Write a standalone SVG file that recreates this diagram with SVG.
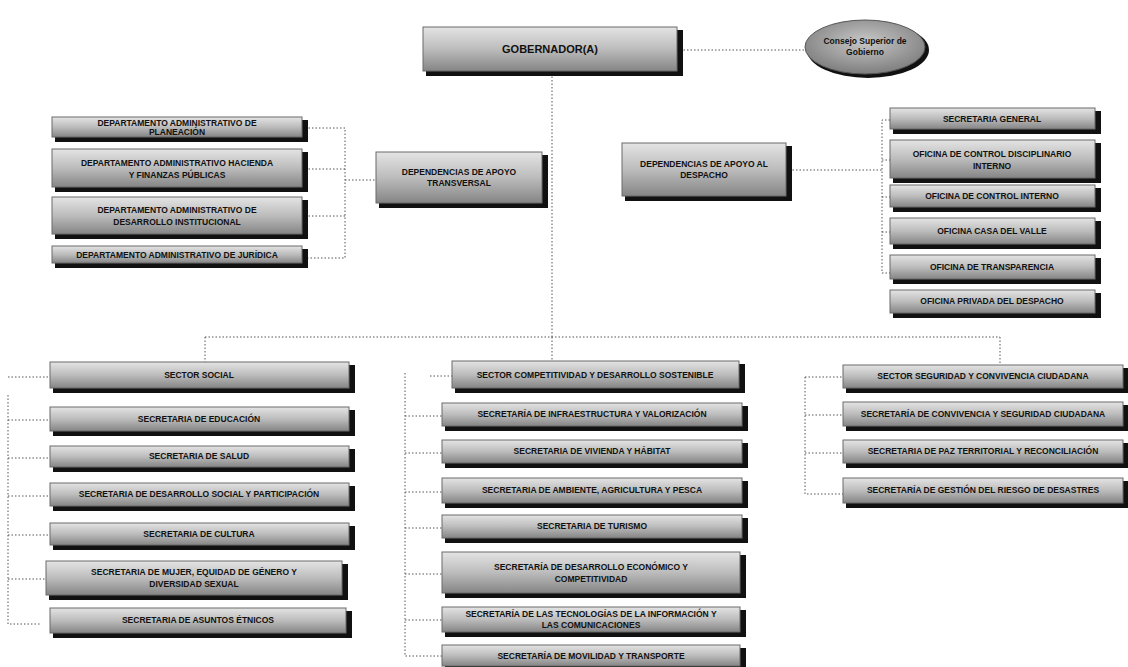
<svg xmlns="http://www.w3.org/2000/svg" width="1128" height="667" viewBox="0 0 1128 667">
<style>
.bx{fill:url(#g);stroke:#6a6a6a;stroke-width:1}
.sh{fill:#111}
.t{font-family:"Liberation Sans",Arial,sans-serif;font-weight:bold;font-size:8.5px;fill:#111;text-anchor:middle}
.tb{font-family:"Liberation Sans",Arial,sans-serif;font-weight:bold;font-size:11px;fill:#111;text-anchor:middle}
.c{fill:none;stroke:#555;stroke-width:1;stroke-dasharray:1.5 2}
</style>
<defs>
<linearGradient id="g" x1="0" y1="0" x2="0" y2="1">
<stop offset="0" stop-color="#e4e4e4"/><stop offset="0.5" stop-color="#bcbcbc"/><stop offset="1" stop-color="#858585"/>
</linearGradient>
<radialGradient id="ge" cx="0.5" cy="0.4" r="0.6">
<stop offset="0" stop-color="#c8c8c8"/><stop offset="1" stop-color="#7e7e7e"/>
</radialGradient>
</defs>
<rect width="1128" height="667" fill="#fff"/>
<g id="connectors">
<path class="c" d="M680 50 H805"/>
<path class="c" d="M552 73 V337"/>
<path class="c" d="M205 337 H1000"/>
<path class="c" d="M205 337 V362"/>
<path class="c" d="M552 337 V361"/>
<path class="c" d="M1000 337 V365"/>
<path class="c" d="M305 128 H345 V258 H305 M305 169 H345 M305 216 H345 M345 180 H376"/>
<path class="c" d="M789 170 H882 M890 120 H882 V273 H890 M882 160 H890 M882 197 H890 M882 232 H890"/>
<path class="c" d="M8 377 H50 M8 395 V624 H40 M8 420 H50 M8 458 H50 M8 496 H50 M8 535 H50 M8 579 H46"/>
<path class="c" d="M430 376 H452 M405 373 V656 H442 M405 416 H442 M405 453 H442 M405 492 H442 M405 528 H442 M405 574 H442 M405 620 H442"/>
<path class="c" d="M805 377 H843 M805 377 V494 H843 M805 415 H843 M805 453 H843"/>
</g>
<g id="gobernador"><rect class="sh" x="426" y="30" width="257" height="46"/><rect class="bx" x="423" y="27" width="254" height="44"/><text class="tb" x="550" y="53">GOBERNADOR(A)</text></g>
<g id="consejo"><ellipse class="sh" cx="868" cy="50" rx="61" ry="28"/><ellipse cx="865" cy="47" rx="60" ry="27" fill="url(#ge)" stroke="#555"/><text class="t" x="865" y="44">Consejo Superior de</text><text class="t" x="865" y="55">Gobierno</text></g>

<g id="dep-planeacion"><rect class="sh" x="55" y="120" width="253" height="22"/><rect class="bx" x="52" y="117" width="250" height="20"/><text class="t" x="177" y="126">DEPARTAMENTO ADMINISTRATIVO DE</text><text class="t" x="177" y="135">PLANEACIÓN</text></g>
<g id="dep-hacienda"><rect class="sh" x="55" y="152" width="253" height="40"/><rect class="bx" x="52" y="149" width="250" height="38"/><text class="t" x="177" y="166">DEPARTAMENTO ADMINISTRATIVO HACIENDA</text><text class="t" x="177" y="178">Y FINANZAS PÚBLICAS</text></g>
<g id="dep-desarrollo"><rect class="sh" x="55" y="200" width="253" height="39"/><rect class="bx" x="52" y="197" width="250" height="37"/><text class="t" x="177" y="213">DEPARTAMENTO ADMINISTRATIVO DE</text><text class="t" x="177" y="225">DESARROLLO INSTITUCIONAL</text></g>
<g id="dep-juridica"><rect class="sh" x="55" y="249" width="253" height="19"/><rect class="bx" x="52" y="246" width="250" height="17"/><text class="t" x="177" y="258">DEPARTAMENTO ADMINISTRATIVO DE JURÍDICA</text></g>
<g id="apoyo-transversal"><rect class="sh" x="379" y="155" width="169" height="53"/><rect class="bx" x="376" y="152" width="166" height="51"/><text class="t" x="459" y="175">DEPENDENCIAS DE APOYO</text><text class="t" x="459" y="186">TRANSVERSAL</text></g>
<g id="apoyo-despacho"><rect class="sh" x="625" y="146" width="167" height="55"/><rect class="bx" x="622" y="143" width="164" height="53"/><text class="t" x="704" y="167">DEPENDENCIAS DE APOYO AL</text><text class="t" x="704" y="178">DESPACHO</text></g>

<g id="sec-general"><rect class="sh" x="893" y="111" width="208" height="23"/><rect class="bx" x="890" y="108" width="205" height="21"/><text class="t" x="992" y="122">SECRETARIA GENERAL</text></g>
<g id="of-disciplinario"><rect class="sh" x="893" y="143" width="208" height="40"/><rect class="bx" x="890" y="140" width="205" height="38"/><text class="t" x="992" y="157">OFICINA DE CONTROL DISCIPLINARIO</text><text class="t" x="992" y="169">INTERNO</text></g>
<g id="of-control"><rect class="sh" x="893" y="188" width="208" height="24"/><rect class="bx" x="890" y="185" width="205" height="22"/><text class="t" x="992" y="199">OFICINA DE CONTROL INTERNO</text></g>
<g id="of-casa"><rect class="sh" x="893" y="221" width="208" height="28"/><rect class="bx" x="890" y="218" width="205" height="26"/><text class="t" x="992" y="234">OFICINA CASA DEL VALLE</text></g>
<g id="of-transparencia"><rect class="sh" x="893" y="258" width="208" height="26"/><rect class="bx" x="890" y="255" width="205" height="24"/><text class="t" x="992" y="270">OFICINA DE TRANSPARENCIA</text></g>
<g id="of-privada"><rect class="sh" x="893" y="293" width="208" height="25"/><rect class="bx" x="890" y="290" width="205" height="23"/><text class="t" x="992" y="304">OFICINA PRIVADA DEL DESPACHO</text></g>

<g id="sector-social"><rect class="sh" x="53" y="365" width="302" height="28"/><rect class="bx" x="50" y="362" width="299" height="26"/><text class="t" x="199" y="378">SECTOR SOCIAL</text></g>
<g id="sec-educacion"><rect class="sh" x="53" y="410" width="302" height="26"/><rect class="bx" x="50" y="407" width="299" height="24"/><text class="t" x="199" y="422">SECRETARIA DE EDUCACIÓN</text></g>
<g id="sec-salud"><rect class="sh" x="53" y="449" width="302" height="23"/><rect class="bx" x="50" y="446" width="299" height="21"/><text class="t" x="199" y="459">SECRETARIA DE SALUD</text></g>
<g id="sec-desarrollo-social"><rect class="sh" x="53" y="486" width="302" height="25"/><rect class="bx" x="50" y="483" width="299" height="23"/><text class="t" x="199" y="497">SECRETARIA DE DESARROLLO SOCIAL Y PARTICIPACIÓN</text></g>
<g id="sec-cultura"><rect class="sh" x="53" y="526" width="302" height="24"/><rect class="bx" x="50" y="523" width="299" height="22"/><text class="t" x="199" y="537">SECRETARIA DE CULTURA</text></g>
<g id="sec-mujer"><rect class="sh" x="49" y="564" width="299" height="36"/><rect class="bx" x="46" y="561" width="296" height="34"/><text class="t" x="194" y="575">SECRETARIA DE MUJER, EQUIDAD DE GÉNERO Y</text><text class="t" x="194" y="587">DIVERSIDAD SEXUAL</text></g>
<g id="sec-etnicos"><rect class="sh" x="53" y="611" width="299" height="27"/><rect class="bx" x="50" y="608" width="296" height="25"/><text class="t" x="198" y="623">SECRETARIA DE ASUNTOS ÉTNICOS</text></g>

<g id="sector-competitividad"><rect class="sh" x="455" y="364" width="290" height="29"/><rect class="bx" x="452" y="361" width="287" height="27"/><text class="t" x="595" y="378">SECTOR COMPETITIVIDAD Y DESARROLLO SOSTENIBLE</text></g>
<g id="sec-infraestructura"><rect class="sh" x="445" y="406" width="303" height="25"/><rect class="bx" x="442" y="403" width="300" height="23"/><text class="t" x="592" y="417">SECRETARÍA DE INFRAESTRUCTURA Y VALORIZACIÓN</text></g>
<g id="sec-vivienda"><rect class="sh" x="445" y="443" width="303" height="25"/><rect class="bx" x="442" y="440" width="300" height="23"/><text class="t" x="592" y="454">SECRETARIA DE VIVIENDA Y HÁBITAT</text></g>
<g id="sec-ambiente"><rect class="sh" x="445" y="481" width="303" height="27"/><rect class="bx" x="442" y="478" width="300" height="25"/><text class="t" x="592" y="493">SECRETARIA DE AMBIENTE, AGRICULTURA Y PESCA</text></g>
<g id="sec-turismo"><rect class="sh" x="445" y="518" width="303" height="25"/><rect class="bx" x="442" y="515" width="300" height="23"/><text class="t" x="592" y="529">SECRETARIA DE TURISMO</text></g>
<g id="sec-economico"><rect class="sh" x="445" y="555" width="301" height="43"/><rect class="bx" x="442" y="552" width="298" height="41"/><text class="t" x="591" y="570">SECRETARÍA DE DESARROLLO ECONÓMICO Y</text><text class="t" x="591" y="582">COMPETITIVIDAD</text></g>
<g id="sec-tic"><rect class="sh" x="445" y="610" width="301" height="27"/><rect class="bx" x="442" y="607" width="298" height="25"/><text class="t" x="591" y="617">SECRETARÍA DE LAS TECNOLOGÍAS DE LA INFORMACIÓN Y</text><text class="t" x="591" y="628">LAS COMUNICACIONES</text></g>
<g id="sec-movilidad"><rect class="sh" x="445" y="648" width="301" height="22"/><rect class="bx" x="442" y="645" width="298" height="21"/><text class="t" x="591" y="659">SECRETARÍA DE MOVILIDAD Y TRANSPORTE</text></g>

<g id="sector-seguridad"><rect class="sh" x="846" y="368" width="282" height="25"/><rect class="bx" x="843" y="365" width="280" height="23"/><text class="t" x="983" y="379">SECTOR SEGURIDAD Y CONVIVENCIA CIUDADANA</text></g>
<g id="sec-convivencia"><rect class="sh" x="846" y="405" width="282" height="26"/><rect class="bx" x="843" y="402" width="280" height="24"/><text class="t" x="983" y="417">SECRETARÍA DE CONVIVENCIA Y SEGURIDAD CIUDADANA</text></g>
<g id="sec-paz"><rect class="sh" x="846" y="443" width="282" height="25"/><rect class="bx" x="843" y="440" width="280" height="23"/><text class="t" x="983" y="454">SECRETARIA DE PAZ TERRITORIAL Y RECONCILIACIÓN</text></g>
<g id="sec-riesgo"><rect class="sh" x="846" y="481" width="282" height="27"/><rect class="bx" x="843" y="478" width="280" height="25"/><text class="t" x="983" y="493">SECRETARÍA DE GESTIÓN DEL RIESGO DE DESASTRES</text></g>
</svg>
